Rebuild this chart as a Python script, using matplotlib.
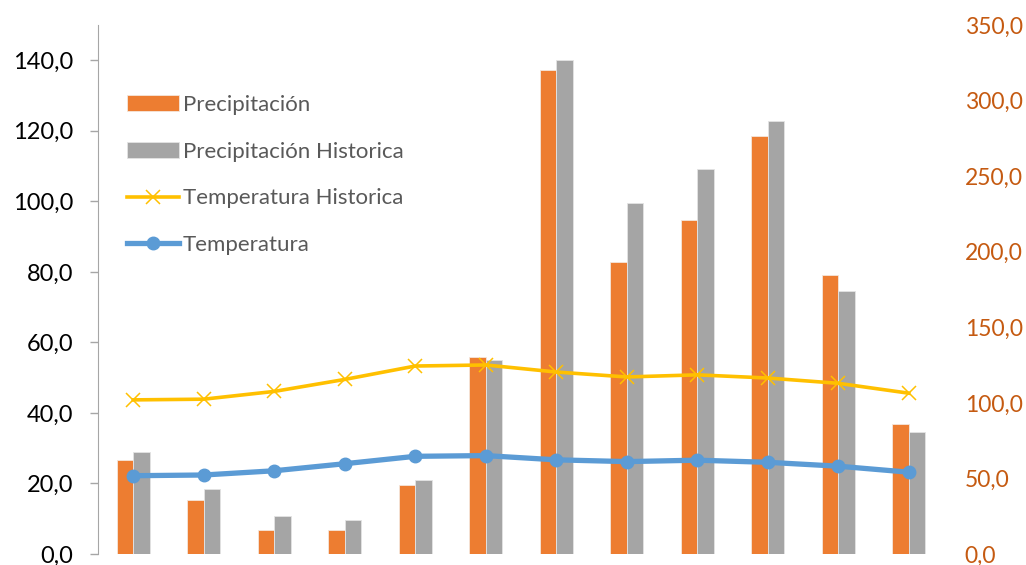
import numpy as np
import matplotlib
matplotlib.use('Agg')
import matplotlib.pyplot as plt

plt.rcParams['font.family'] = ['Lato', 'DejaVu Sans']

# monthly values (12 categories, no x labels)
months = list(range(12))
precip = [61.9, 35.9, 16.2, 16.2, 45.5, 130.5, 320.0, 193.4, 220.7, 276.8, 184.3, 85.7]
precip_hist = [67.6, 43.3, 25.3, 22.2, 49.1, 128.5, 327.0, 232.2, 254.7, 286.7, 173.7, 80.6]
temp = [22.2, 22.4, 23.6, 25.6, 27.7, 27.9, 26.7, 26.2, 26.6, 26.0, 24.9, 23.2]
temp_hist = [43.7, 43.9, 46.1, 49.5, 53.3, 53.6, 51.6, 50.2, 50.8, 49.9, 48.4, 45.6]

left_ticks = [0, 20, 40, 60, 80, 100, 120, 140]
right_ticks = [0, 50, 100, 150, 200, 250, 300, 350]

c_orange = '#ED7D31'
c_gray = '#A5A5A5'
c_yellow = '#FFC000'
c_blue = '#5B9BD5'

fig = plt.figure(figsize=(10.26, 5.65), dpi=100)
ax = fig.add_axes([98/1026, 11/565, 846/1026, 529/565])
ax2 = ax.twinx()

x = np.array(months)
w = 0.237
b1 = ax2.bar(x - w/2, precip, w, color=c_orange, edgecolor='#F4E6DC', linewidth=0.6, label='Precipitación')
b2 = ax2.bar(x + w/2, precip_hist, w, color=c_gray, edgecolor='#E4E4E4', linewidth=0.6, label='Precipitación Historica')

l1, = ax.plot(x, temp_hist, color=c_yellow, lw=2.6, marker='x', ms=10, mew=1.1,
              label='Temperatura Historica')
l2, = ax.plot(x, temp, color=c_blue, lw=3.8, marker='o', ms=9,
              label='Temperatura')

ax.set_zorder(ax2.get_zorder() + 1)
ax.patch.set_visible(False)

ax.set_xlim(-0.5, 11.5)
ax.set_ylim(0, 150)
ax2.set_ylim(0, 350)
ax.set_xticks([])
ax.set_yticks(left_ticks)
ax.set_yticklabels([f'{v:.1f}'.replace('.', ',') for v in left_ticks])
ax2.set_yticks(right_ticks)
ax2.set_yticklabels([f'{v:.1f}'.replace('.', ',') for v in right_ticks])

for s in ['top', 'right', 'bottom']:
    ax.spines[s].set_visible(False)
for s in ['top', 'right', 'bottom', 'left']:
    ax2.spines[s].set_visible(False)
ax.spines['left'].set_color('#A6A6A6')
ax.tick_params(axis='y', length=6, width=1, color='#A6A6A6', pad=12,
               labelsize=17, labelcolor='black')
ax2.tick_params(axis='y', length=0, pad=15, labelsize=16.5, labelcolor='#C55A11')

leg = ax.legend([b1, b2, l1, l2],
                ['Precipitación', 'Precipitación Historica', 'Temperatura Historica', 'Temperatura'],
                loc='upper left', bbox_to_anchor=(127/1026, 1 - 95/565),
                bbox_transform=fig.transFigure, frameon=False, fontsize=16,
                borderpad=0, borderaxespad=0, handlelength=2.35, handletextpad=0.15,
                labelspacing=1.2)
for t in leg.get_texts():
    t.set_color('#595959')

fig.savefig('out.png', dpi=100)
